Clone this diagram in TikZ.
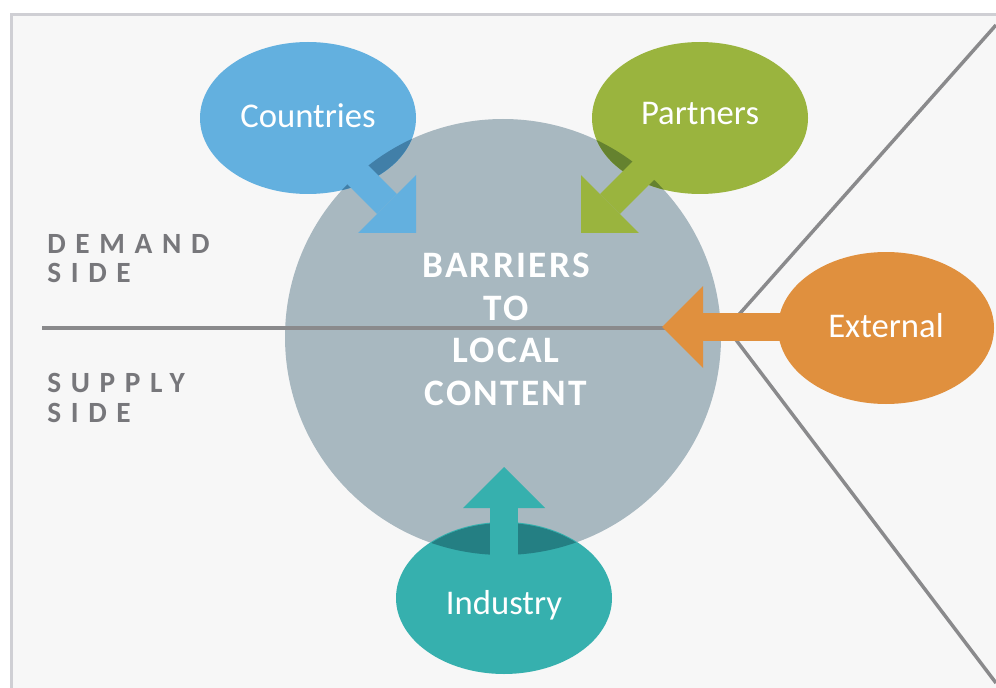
\documentclass[tikz,border=0pt]{standalone}
\usepackage{fontspec}
\setmainfont{Carlito}
\newfontfamily\sidefont[LetterSpace=33]{Carlito}
\newfontfamily\corefont[LetterSpace=6]{Carlito}
\usetikzlibrary{arrows.meta,shapes.geometric}
\definecolor{bggray}{HTML}{F7F7F7}
\definecolor{framegray}{HTML}{CFCFD4}
\definecolor{linegray}{HTML}{8A8A8C}
\definecolor{textgray}{HTML}{77777B}
\definecolor{coreblue}{HTML}{A8B8C0}
\definecolor{cblue}{HTML}{63B0DF}
\definecolor{cbluedark}{HTML}{417FA8}
\definecolor{pgreen}{HTML}{9AB43E}
\definecolor{pgreendark}{HTML}{65822F}
\definecolor{eorange}{HTML}{E0903E}
\definecolor{iteal}{HTML}{36B0AE}
\definecolor{itealdark}{HTML}{247F83}
\begin{document}
\begin{tikzpicture}[x=0.75pt,y=-0.75pt,
  blob/.style={ellipse,minimum width=162pt,minimum height=114pt,inner sep=0pt,text=white,text depth=0pt,text height=15pt,font=\fontsize{26}{30}\selectfont},
  block/.style={line width=21pt,-{Triangle[length=30.75pt,width=61.5pt,line width=0pt]}},
  divider/.style={draw=linegray,line width=2.6pt},
  sidelabel/.style={anchor=base west,inner sep=0pt,text=textgray,font=\sidefont\bfseries\fontsize{22}{26}\selectfont},
  corelabel/.style={anchor=base,inner sep=0pt,text=white,font=\corefont\bfseries\fontsize{28}{32}\selectfont}]
\clip (0,0) rectangle (996,688);
\fill[white] (0,0) rectangle (996,688);
\draw[framegray,line width=2.25pt,fill=bggray] (11,15) rectangle (1010,700);
\node[circle,fill=coreblue,minimum size=327pt,inner sep=0pt] (core) at (503,337) {};
\coordinate (vx) at (727,328);
\draw[divider] (42,328) -- (vx);
\draw[divider] (996,25) -- (vx) -- (996,683);
\foreach \n/\t/\y in {dm/DEMAND/253,ds/SIDE/282,sp/SUPPLY/392,ss/SIDE/422}
  \node[sidelabel] (\n) at (47,\y) {\t};
\foreach \n/\t/\y in {t1/BARRIERS/277,t2/TO/320,t3/LOCAL/362,t4/CONTENT/405}
  \node[corelabel] (\n) at (506,\y) {\t};
\node[blob,fill=cblue] (countries) at (308,118) {Countries};
\node[blob,fill=pgreen,text height=10.5pt] (partners) at (700,118) {Partners};
\node[blob,fill=iteal,text height=24pt] (industry) at (504,598) {Industry};
\begin{scope}
\clip (core.center) circle [radius=218];
\fill[cbluedark] (countries.center) ellipse [x radius=108,y radius=76];
\fill[pgreendark] (partners.center) ellipse [x radius=108,y radius=76];
\fill[itealdark] (industry.center) ellipse [x radius=107,y radius=75];
\end{scope}
\coordinate (ca) at (351,168);
\coordinate (cb) at (416,233);
\coordinate (pa) at (645,169);
\coordinate (pb) at (581,233);
\coordinate (ia) at (504,560);
\coordinate (ib) at (504,467);
\coordinate (ea) at (800,327);
\coordinate (eb) at (662,327);
\draw[block,cblue] (ca) -- (cb);
\draw[block,pgreen] (pa) -- (pb);
\draw[block,iteal] (ia) -- (ib);
\draw[block,eorange] (ea) -- (eb);
\node[blob,fill=eorange,text height=13.5pt] (external) at (886,328) {External};
\end{tikzpicture}
\end{document}
